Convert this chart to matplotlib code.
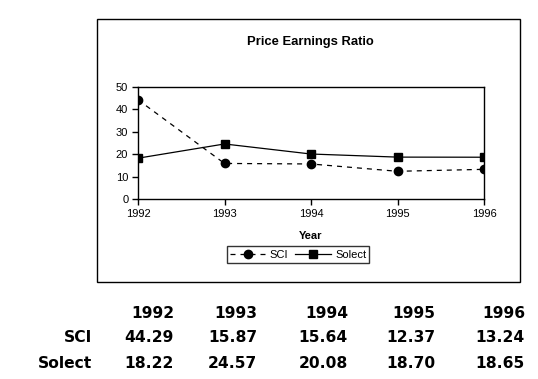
import matplotlib
matplotlib.use("Agg")
import matplotlib.pyplot as plt
from matplotlib.patches import Rectangle

plt.rcParams['font.family'] = ['Liberation Sans', 'DejaVu Sans']

years = [1992, 1993, 1994, 1995, 1996]
sci = [44.29, 15.87, 15.64, 12.37, 13.24]
solect = [18.22, 24.57, 20.08, 18.70, 18.65]
series_names = ["SCI", "Solect"]

W, H = 538, 379
fig = plt.figure(figsize=(W / 100, H / 100), dpi=100)
fig.patch.set_facecolor("white")

# outer chart frame
fig.patches.append(Rectangle((97 / W, 1 - 282 / H), (520 - 97) / W, (282 - 19) / H,
                             transform=fig.transFigure, fill=False, edgecolor="black", lw=1))

ax = fig.add_axes([138 / W, 1 - 199 / H, (484 - 138) / W, (199 - 87) / H])
ax.plot(years, sci, color="black", lw=0.9, ls=(0, (4, 4)), marker="o", markersize=6, label=series_names[0])
ax.plot(years, solect, color="black", lw=0.9, ls="-", marker="s", markersize=6, label=series_names[1])
ax.set_xlim(years[0], years[-1])
ax.set_ylim(0, 50)
ax.set_xticks(years)
ax.set_yticks([0, 10, 20, 30, 40, 50])
ax.tick_params(direction="out", length=4, width=1, labelsize=8, pad=3)
for s in ax.spines.values():
    s.set_linewidth(1)
ax.set_xlabel("Year", fontsize=8, fontweight="bold", labelpad=9)

fig.text(310 / W, 1 - 42 / H, "Price Earnings Ratio", ha="center", va="center",
         fontsize=9.4, fontweight="bold")

leg = ax.legend(loc="center", bbox_to_anchor=(298 / W, 1 - 254.5 / H), bbox_transform=fig.transFigure,
                ncol=2, fontsize=8, frameon=True, fancybox=False, edgecolor="black",
                handlelength=3.2, columnspacing=0.6, handletextpad=0.4, borderpad=0.3)
leg.get_frame().set_linewidth(1)

# data table below
tfont = dict(ha="right", va="center", fontsize=11.2, fontweight="bold", family="DejaVu Sans")
col_x = [174, 257, 348, 435, 525]
row_y = [313, 338, 364]
for x, yr in zip(col_x, years):
    fig.text(x / W, 1 - row_y[0] / H, str(yr), **tfont)
for x, v in zip(col_x, sci):
    fig.text(x / W, 1 - row_y[1] / H, f"{v:.2f}", **tfont)
for x, v in zip(col_x, solect):
    fig.text(x / W, 1 - row_y[2] / H, f"{v:.2f}", **tfont)
fig.text(92 / W, 1 - row_y[1] / H, series_names[0], **tfont)
fig.text(92 / W, 1 - row_y[2] / H, series_names[1], **tfont)

fig.savefig("out.png", dpi=100)
